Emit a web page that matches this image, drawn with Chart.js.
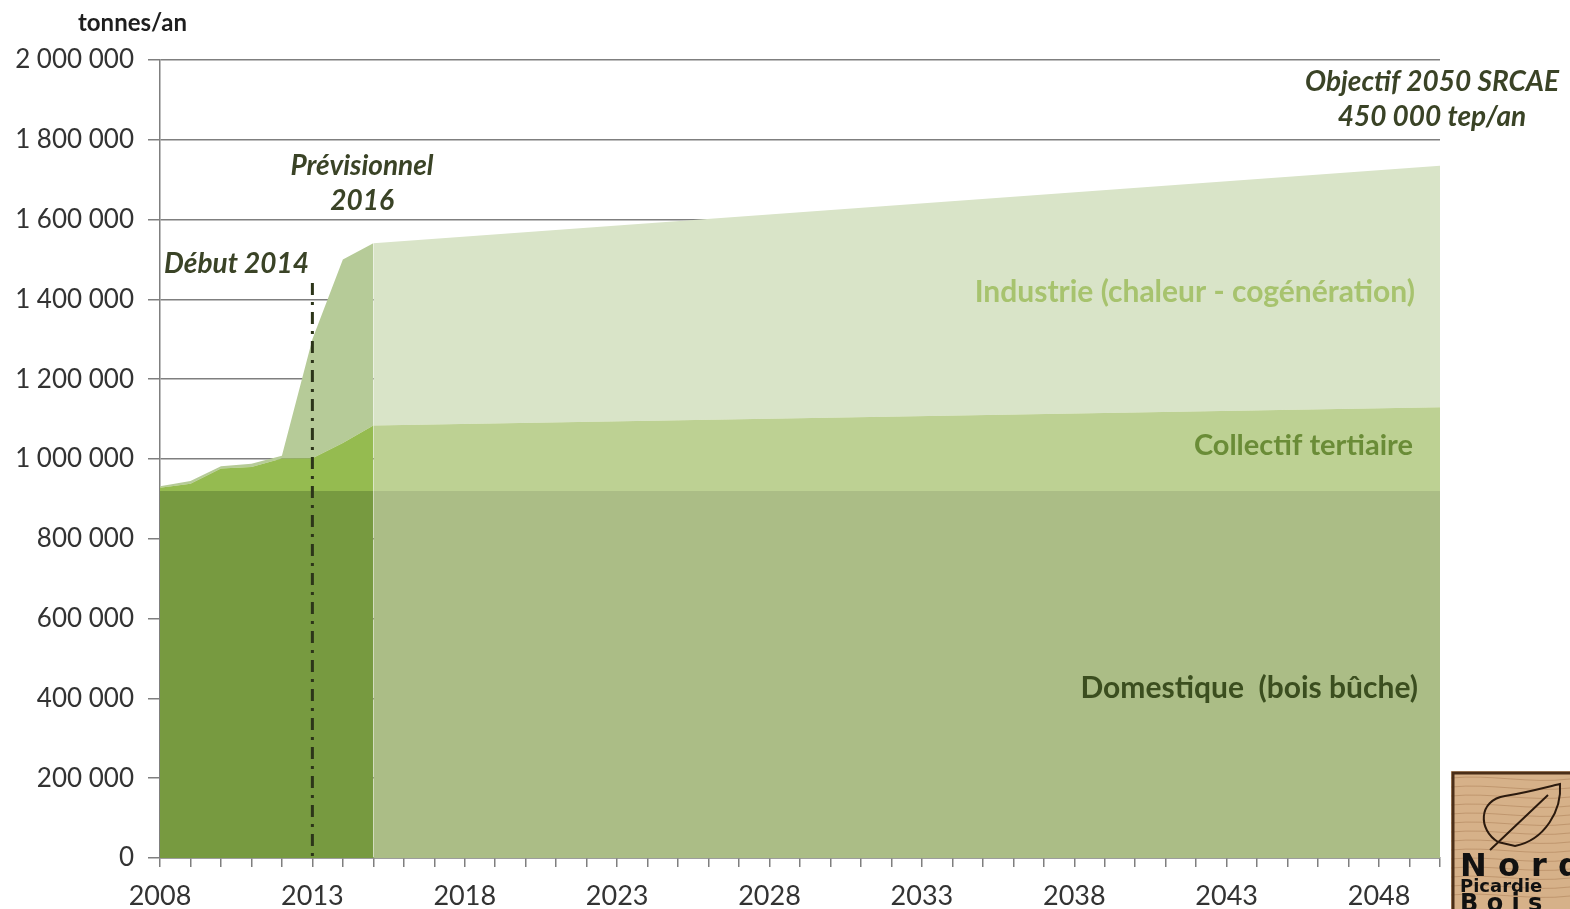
<!DOCTYPE html>
<html>
<head>
<meta charset="utf-8">
<script src="https://cdn.jsdelivr.net/npm/chart.js@4/dist/chart.umd.min.js"></script>
<style>
  html, body { margin: 0; padding: 0; background: #fff; }
  #wrap { width: 1570px; height: 909px; position: relative; }
</style>
</head>
<body>
<div id="wrap"><canvas id="myChart"></canvas></div>
<script>
'use strict';

// years with a known value (straight lines in between, as in the original)
let years = [2008, 2009, 2010, 2011, 2012, 2013, 2014, 2015, 2050];
// tonnes/an, each layer stacked on the previous one
let domestique = [920000, 920000, 920000, 920000, 920000, 920000, 920000, 920000, 920000];
let collectif = [8000, 18000, 56000, 60000, 81000, 82000, 120000, 164000, 210000];
let industrie = [4000, 7000, 6000, 8000, 7000, 298000, 460000, 457000, 605000];
let yTicks = [0, 200000, 400000, 600000, 800000, 1000000, 1200000, 1400000, 1600000, 1800000, 2000000];
let xLabelYears = [2008, 2013, 2018, 2023, 2028, 2033, 2038, 2043, 2048];
let projectionStart = 2015;
let markerYear = 2013;

let chartEl = document.getElementById('myChart');
let ctx = chartEl.getContext('2d');
let FONT = 'Lato, "Open Sans", sans-serif';

function toPoints(values) {
  return years.map(function (yr, i) { return { x: yr, y: values[i] }; });
}

// historical part darker, projection lighter
function twoTone(hist, proj) {
  return {
    backgroundColor: function (c) {
      return years[c.p0DataIndex] >= projectionStart ? proj : hist;
    }
  };
}

function fmt(v) {
  return String(v).replace(/\B(?=(\d{3})+(?!\d))/g, ' ');
}

let annotations = {
  id: 'annotations',
  afterDatasetsDraw: function (chart) {
    let c = chart.ctx;
    let xs = chart.scales.x;
    let area = chart.chartArea;

    // dash-dot marker line
    let mx = xs.getPixelForValue(markerYear);
    c.save();
    c.strokeStyle = '#2c3519';
    c.lineWidth = 3;
    c.setLineDash([12, 7, 3, 7]);
    c.beginPath();
    c.moveTo(mx, 283);
    c.lineTo(mx, area.bottom);
    c.stroke();
    c.restore();

    c.save();
    c.textBaseline = 'middle';

    c.fillStyle = '#1e1e1e';
    c.font = 'bold 24px ' + FONT;
    c.textAlign = 'left';
    c.fillText('tonnes/an', 78, 23);

    c.fillStyle = '#3a4326';
    c.font = 'italic bold 28px ' + FONT;
    c.textAlign = 'left';
    c.fillText('Début 2014', 164, 264);
    c.textAlign = 'center';
    c.fillText('Prévisionnel', 362, 166);
    c.fillText('2016', 362, 201);

    // white box behind the objective text
    c.fillStyle = '#ffffff';
    c.fillRect(1300, 68, 270, 64);
    c.fillStyle = '#3a4326';
    c.fillText('Objectif 2050 SRCAE', 1432, 82);
    c.fillText('450 000 tep/an', 1432, 117);

    c.textAlign = 'right';
    c.font = 'bold 30px ' + FONT;
    c.fillStyle = '#a7c36e';
    c.fillText('Industrie (chaleur - cogénération)', 1415, 292);
    c.fillStyle = '#6a8c37';
    c.font = 'bold 29px ' + FONT;
    c.fillText('Collectif tertiaire', 1413, 446);
    c.fillStyle = '#3b4e1f';
    c.font = 'bold 30px ' + FONT;
    c.fillText('Domestique  (bois bûche)', 1418, 688);
    c.restore();

    // logo, bottom right
    c.save();
    c.fillStyle = '#d6b189';
    c.fillRect(1451, 771, 130, 140);
    c.strokeStyle = 'rgba(150,100,60,0.35)';
    c.lineWidth = 1;
    for (let i = 0; i < 14; i++) {
      c.beginPath();
      c.moveTo(1451, 778 + i * 9);
      c.bezierCurveTo(1490, 774 + i * 9, 1530, 784 + i * 9, 1570, 779 + i * 9);
      c.stroke();
    }
    c.strokeStyle = '#4a2e18';
    c.lineWidth = 3;
    c.strokeRect(1453, 773, 130, 140);
    c.strokeStyle = '#2b1a0e';
    c.lineWidth = 2;
    c.beginPath();
    c.moveTo(1498, 842);
    c.bezierCurveTo(1478, 830, 1478, 800, 1505, 796);
    c.bezierCurveTo(1530, 792, 1550, 786, 1560, 784);
    c.bezierCurveTo(1562, 810, 1545, 840, 1515, 846);
    c.closePath();
    c.moveTo(1490, 850);
    c.lineTo(1548, 795);
    c.stroke();
    c.fillStyle = '#111';
    c.textAlign = 'left';
    c.textBaseline = 'alphabetic';
    c.font = 'bold 32px "DejaVu Sans", sans-serif';
    c.fillText('N o r d', 1460, 876);
    c.font = 'bold 18px "DejaVu Sans", sans-serif';
    c.fillText('Picardie', 1460, 892);
    c.font = 'bold 24px "DejaVu Sans", sans-serif';
    c.fillText('B o i s', 1460, 911);
    c.restore();
  }
};

new Chart(ctx, {
  type: 'line',
  data: {
    datasets: [{
      label: 'Domestique (bois bûche)',
      data: toPoints(domestique),
      fill: 'origin',
      backgroundColor: '#779a40',
      segment: twoTone('#779a40', '#abbd86')
    }, {
      label: 'Collectif tertiaire',
      data: toPoints(collectif),
      fill: '-1',
      backgroundColor: '#95bb50',
      segment: twoTone('#95bb50', '#bdd193')
    }, {
      label: 'Industrie (chaleur - cogénération)',
      data: toPoints(industrie),
      fill: '-1',
      backgroundColor: '#b6cb98',
      segment: twoTone('#b6cb98', '#d9e4c8')
    }]
  },
  options: {
    responsive: true,
    maintainAspectRatio: false,
    animation: false,
    elements: {
      line: { borderWidth: 0, tension: 0 },
      point: { radius: 0, hoverRadius: 0 }
    },
    layout: { padding: { top: 60, right: 130, left: 0, bottom: 0 } },
    plugins: {
      legend: { display: false },
      tooltip: { enabled: false }
    },
    scales: {
      x: {
        type: 'linear',
        min: years[0],
        max: years[years.length - 1],
        afterFit: function (s) { s.height = 51; },
        afterBuildTicks: function (s) {
          let t = [];
          for (let yr = s.min; yr <= s.max; yr++) t.push({ value: yr });
          s.ticks = t;
        },
        grid: {
          drawOnChartArea: false,
          drawTicks: true,
          tickLength: 9,
          color: '#7f7f7f',
          lineWidth: 1.5
        },
        border: { display: true, color: '#7f7f7f', width: 1.5 },
        ticks: {
          autoSkip: false,
          maxRotation: 0,
          padding: 13,
          color: '#333333',
          font: { family: FONT, size: 27 },
          callback: function (v) {
            return xLabelYears.indexOf(v) >= 0 ? String(v) : '';
          }
        }
      },
      y: {
        stacked: true,
        min: yTicks[0],
        max: yTicks[yTicks.length - 1],
        afterFit: function (s) { s.width = 160; },
        afterBuildTicks: function (s) {
          s.ticks = yTicks.map(function (v) { return { value: v }; });
        },
        grid: {
          drawTicks: true,
          tickLength: 12,
          color: '#7f7f7f',
          lineWidth: 1.5
        },
        border: { display: true, color: '#7f7f7f', width: 1.5 },
        ticks: {
          padding: 14,
          color: '#333333',
          font: { family: FONT, size: 26 },
          callback: function (v) { return fmt(v); }
        }
      }
    }
  },
  plugins: [annotations]
});
</script>
</body>
</html>
